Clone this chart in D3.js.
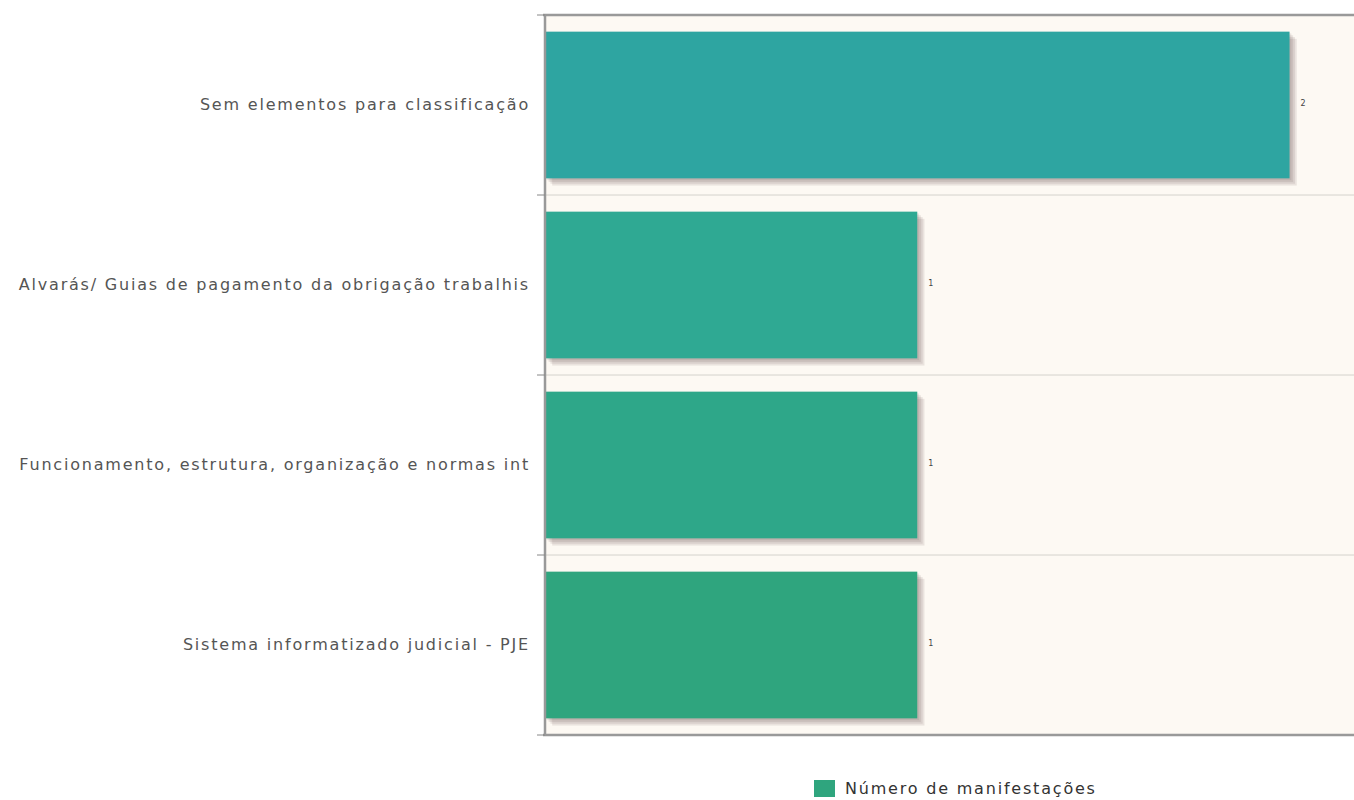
<!DOCTYPE html>
<html><head><meta charset="utf-8">
<script src="https://cdn.jsdelivr.net/npm/d3@7/dist/d3.min.js"></script>
<style>body{margin:0;background:#fff;overflow:hidden}</style>
</head><body>
<svg id="c" width="1354" height="800"></svg>
<script>
const categories = [
  "Sem elementos para classificação",
  "Alvarás/ Guias de pagamento da obrigação trabalhis",
  "Funcionamento, estrutura, organização e normas int",
  "Sistema informatizado judicial - PJE"
];
const values = [2, 1, 1, 1];
const barColors = ["#2ea5a1", "#2fa993", "#2ea789", "#2fa57e"];
const seriesName = "Número de manifestações";
const xMax = 2.2;

const svg = d3.select("#c");
const L = 545, T = 15, R = 1364, B = 735;
const FONT = "DejaVu Sans, Verdana, sans-serif";

const x = d3.scaleLinear().domain([0, xMax]).range([L, R]);
const y = d3.scaleBand().domain(categories).range([T, B]).paddingInner(0.185).paddingOuter(0.0925);
const yb = d3.scaleBand().domain(categories).range([T, B]);

svg.append("rect").attr("x", L).attr("y", T).attr("width", R - L).attr("height", B - T).attr("fill", "#fdf9f3");

categories.slice(1).forEach(c => {
  svg.append("line").attr("x1", L).attr("x2", R).attr("y1", yb(c)).attr("y2", yb(c))
    .attr("stroke", "#d4d2cc").attr("stroke-width", 1);
});

const g = svg.append("g");
categories.forEach((c, i) => {
  for (let k = 1; k <= 4; k++) {
    g.append("rect").attr("x", x(0) + k * 1.8).attr("y", y(c) + k * 1.8)
      .attr("width", x(values[i]) - x(0)).attr("height", y.bandwidth())
      .attr("fill", "#6a5555").attr("opacity", 0.13);
  }
});
categories.forEach((c, i) => {
  g.append("rect").attr("x", x(0)).attr("y", y(c))
    .attr("width", x(values[i]) - x(0)).attr("height", y.bandwidth())
    .attr("fill", barColors[i]);
  g.append("text").attr("x", x(values[i]) + 11).attr("y", y(c) + y.bandwidth() / 2 + 1)
    .attr("font-family", FONT).attr("font-size", 8)
    .attr("fill", "#444").text(values[i]);
});

svg.append("line").attr("x1", L - 2).attr("x2", R).attr("y1", T).attr("y2", T).attr("stroke", "#999").attr("stroke-width", 2.5);
svg.append("line").attr("x1", L - 2).attr("x2", R).attr("y1", B).attr("y2", B).attr("stroke", "#999").attr("stroke-width", 2.5);
svg.append("line").attr("x1", L).attr("x2", L).attr("y1", T).attr("y2", B).attr("stroke", "#999").attr("stroke-width", 2.5);

const ticks = [T].concat(categories.map(c => yb(c) + yb.bandwidth()));
ticks.forEach(t => {
  svg.append("line").attr("x1", L - 8).attr("x2", L).attr("y1", t).attr("y2", t).attr("stroke", "#888").attr("stroke-width", 1);
});
categories.forEach(c => {
  svg.append("text").attr("x", 530).attr("y", yb(c) + yb.bandwidth() / 2 + 5)
    .attr("text-anchor", "end").attr("font-family", FONT)
    .attr("font-size", 16).attr("letter-spacing", "1.8px").attr("fill", "#555").text(c);
});

const lg = svg.append("g");
lg.append("rect").attr("x", 814).attr("y", 780).attr("width", 21).attr("height", 17).attr("fill", barColors[3]);
lg.append("text").attr("x", 845).attr("y", 794).attr("font-family", FONT)
  .attr("font-size", 16).attr("letter-spacing", "1.8px").attr("fill", "#333").text(seriesName);
</script>
</body></html>
